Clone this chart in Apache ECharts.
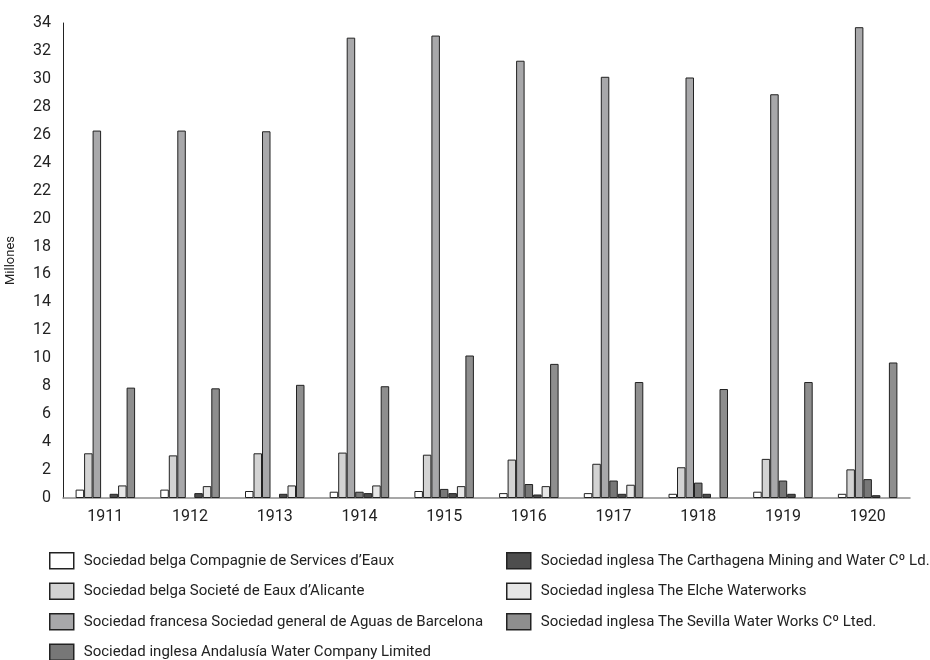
<!DOCTYPE html>
<html>
<head>
<meta charset="utf-8">
<script src="https://cdn.jsdelivr.net/npm/echarts@6/dist/echarts.min.js"></script>
<style>
	html, body { margin: 0; padding: 0; background: #fff; }
	#chart { width: 930px; height: 660px; }
</style>
</head>
<body>
<div id="chart"></div>
<script>
	// years on the x axis
	let years = ['1911', '1912', '1913', '1914', '1915', '1916', '1917', '1918', '1919', '1920'];

	let names = [
		'Sociedad belga Compagnie de Services d\u2019Eaux',
		'Sociedad belga Societé de Eaux d\u2019Alicante',
		'Sociedad francesa Sociedad general de Aguas de Barcelona',
		'Sociedad inglesa Andalusía Water Company Limited',
		'Sociedad inglesa The Carthagena Mining and Water Cº Ld.',
		'Sociedad inglesa The Elche Waterworks',
		'Sociedad inglesa The Sevilla Water Works Cº Lted.'
	];

	// millones (null = no bar in the picture)
	let compagnie  = [0.6, 0.6, 0.5, 0.45, 0.5, 0.35, 0.35, 0.3, 0.45, 0.3];
	let alicante   = [3.2, 3.05, 3.2, 3.25, 3.1, 2.75, 2.45, 2.2, 2.8, 2.05];
	let barcelona  = [26.3, 26.3, 26.25, 32.95, 33.1, 31.3, 30.15, 30.1, 28.9, 33.7];
	let andalusia  = [null, null, null, 0.45, 0.65, 1.0, 1.25, 1.1, 1.25, 1.35];
	let carthagena = [0.3, 0.35, 0.3, 0.35, 0.35, 0.25, 0.3, 0.3, 0.3, 0.2];
	let elche      = [0.9, 0.85, 0.9, 0.9, 0.85, 0.85, 0.95, null, null, null];
	let sevilla    = [7.9, 7.85, 8.1, 8.0, 10.2, 9.6, 8.3, 7.8, 8.3, 9.7];

	let allData = [compagnie, alicante, barcelona, andalusia, carthagena, elche, sevilla];
	let colors = ['#ffffff', '#d3d3d3', '#a8a8aa', '#777777', '#4d4d4d', '#e6e6e6', '#8e8e8e'];

	let series = allData.map(function (d, i) {
		return {
			name: names[i],
			type: 'bar',
			data: d,
			barWidth: 8.5,
			barGap: '0%',
			itemStyle: {
				color: colors[i],
				borderColor: '#222',
				borderWidth: 1
			}
		};
	});

	let legendBase = {
		orient: 'vertical',
		padding: 0,
		height: 140,
		itemWidth: 24,
		itemHeight: 16,
		itemGap: 13,
		icon: 'rect',
		itemStyle: { borderColor: '#222', borderWidth: 1.5 },
		textStyle: { fontFamily: 'Roboto', fontSize: 15, color: '#222', padding: [0, 0, 0, 5] }
	};

	let option = {
		animation: false,
		grid: { left: 63, top: 23, right: 20, bottom: 162, outerBoundsMode: 'none' },
		legend: [
			Object.assign({}, legendBase, { left: 49, top: 552, data: names.slice(0, 4) }),
			Object.assign({}, legendBase, { left: 506, top: 552, data: names.slice(4) })
		],
		xAxis: {
			type: 'category',
			data: years,
			axisLine: { lineStyle: { color: '#8a8a8a', width: 1.5 } },
			axisTick: { show: false },
			axisLabel: { fontFamily: 'Roboto', fontSize: 16, color: '#222', margin: 11 }
		},
		yAxis: {
			type: 'value',
			min: 0,
			max: 34,
			interval: 2,
			name: 'Millones',
			nameLocation: 'middle',
			nameGap: 46,
			nameTextStyle: { fontFamily: 'Roboto', fontSize: 13, color: '#222' },
			axisLine: { show: true, lineStyle: { color: '#222', width: 1 } },
			axisTick: { show: false },
			splitLine: { show: false },
			axisLabel: { fontFamily: 'Roboto', fontSize: 16, color: '#222', margin: 12 }
		},
		series: series
	};

	var myChart = echarts.init(document.getElementById('chart'));
	myChart.setOption(option);
</script>
</body>
</html>
